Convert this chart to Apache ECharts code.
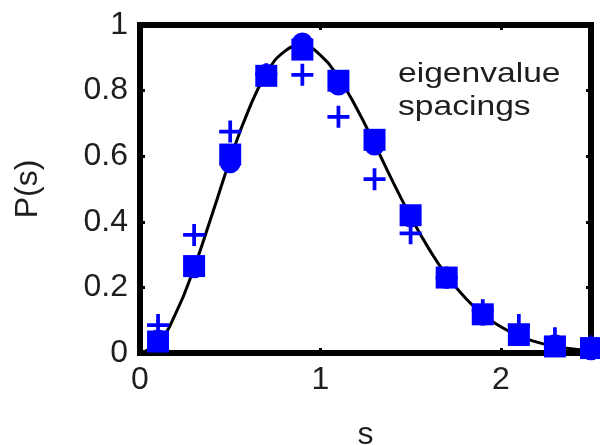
<!DOCTYPE html>
<html>
<head>
<meta charset="utf-8">
<script src="https://cdn.jsdelivr.net/npm/echarts@6/dist/echarts.min.js"></script>
<style>
  html, body { margin: 0; padding: 0; background: #fff; }
  #chart { width: 600px; height: 445px; }
</style>
</head>
<body>
<div id="chart"></div>
<script>
// Histogram bin centres (spacing s) and the three measured samples
const binS = [0.1, 0.3, 0.5, 0.7, 0.9, 1.1, 1.3, 1.5, 1.7, 1.9, 2.1, 2.3, 2.5];
const squareP = [0.035, 0.265, 0.605, 0.845, 0.925, 0.83, 0.65, 0.42, 0.23, 0.118, 0.055, 0.02, 0.015];
const circleP = [0.04, 0.26, 0.58, 0.85, 0.945, 0.817, 0.634, 0.415, 0.228, 0.115, 0.055, 0.025, 0.01];
const plusP = [0.085, 0.36, 0.675, 0.85, 0.848, 0.72, 0.53, 0.365, 0.23, 0.13, 0.085, 0.045, 0.02];

// Reference curve P(s)
const curveS = [0, 0.1, 0.2, 0.3, 0.4, 0.5, 0.6, 0.7, 0.8, 0.9, 1.0, 1.1, 1.2, 1.3,
                1.4, 1.5, 1.6, 1.7, 1.8, 1.9, 2.0, 2.1, 2.2, 2.3, 2.4, 2.5];
const curveP = [0, 0.032, 0.123, 0.26, 0.423, 0.59, 0.738, 0.851, 0.919, 0.937, 0.908, 0.84,
                0.747, 0.638, 0.524, 0.416, 0.319, 0.236, 0.17, 0.118, 0.08, 0.052, 0.033,
                0.02, 0.012, 0.007];

const xTicks = [0, 1, 2];
const yTicks = [0, 0.2, 0.4, 0.6, 0.8, 1];

const BLUE = '#0000ff';
const INK = '#1e1e1e';
const FONT = '"Liberation Sans", Arial, sans-serif';

const zip = (a, b) => a.map((v, i) => [v, b[i]]);

// filled plus sign as a closed outline
const PLUS = 'path://M8.3,0 H11.7 V8.3 H20 V11.7 H11.7 V20 H8.3 V11.7 H0 V8.3 H8.3 Z';

const frameLine = { show: true, onZero: false, lineStyle: { color: '#000', width: 6, cap: 'square' } };
const innerTick = { show: true, inside: true, length: 5, lineStyle: { color: '#000', width: 3 } };

const chart = echarts.init(document.getElementById('chart'), null, { renderer: 'canvas' });
chart.setOption({
  animation: false,
  backgroundColor: '#fff',
  grid: { left: 140, right: 9, top: 25, bottom: 92, containLabel: false, outerBoundsMode: 'none' },
  xAxis: [
    {
      type: 'value', min: 0, max: 2.5, interval: 1, position: 'bottom',
      name: 's', nameLocation: 'middle', nameGap: 66,
      nameTextStyle: { fontFamily: FONT, fontSize: 32, color: INK },
      axisLine: frameLine, axisTick: innerTick, splitLine: { show: false },
      axisLabel: {
        margin: 11, fontFamily: FONT, fontSize: 32, color: INK,
        formatter: v => (xTicks.indexOf(v) >= 0 ? String(v) : '')
      }
    },
    {
      type: 'value', min: 0, max: 2.5, interval: 1, position: 'top',
      axisLine: frameLine, axisTick: innerTick, splitLine: { show: false },
      axisLabel: { show: false }
    }
  ],
  yAxis: [
    {
      type: 'value', min: 0, max: 1, interval: 0.2, position: 'left',
      name: 'P(s)', nameLocation: 'middle', nameGap: 96, nameRotate: 90,
      nameTextStyle: { fontFamily: FONT, fontSize: 32, color: INK },
      axisLine: frameLine, axisTick: innerTick, splitLine: { show: false },
      axisLabel: {
        margin: 12, fontFamily: FONT, fontSize: 32, color: INK,
        formatter: v => (yTicks.indexOf(+v.toFixed(2)) >= 0 ? String(+v.toFixed(2)) : '')
      }
    },
    {
      type: 'value', min: 0, max: 1, interval: 0.2, position: 'right',
      axisLine: frameLine, axisTick: innerTick, splitLine: { show: false },
      axisLabel: { show: false }
    }
  ],
  graphic: [
    {
      type: 'text', x: 398, y: 58, scaleX: 1.2, z: 10,
      style: {
        text: 'eigenvalue\nspacings', fontFamily: FONT, fontSize: 28,
        lineHeight: 33, fill: INK
      }
    }
  ],
  series: [
    {
      type: 'line', data: zip(curveS, curveP), smooth: true, showSymbol: false,
      lineStyle: { color: '#000', width: 3 }, z: 2, silent: true
    },
    {
      type: 'scatter', data: zip(binS, squareP), symbol: 'rect', symbolSize: 22,
      itemStyle: { color: BLUE, opacity: 1 }, z: 3, clip: false
    },
    {
      type: 'scatter', data: zip(binS, circleP), symbol: 'circle', symbolSize: 13,
      itemStyle: { color: 'rgba(0,0,0,0)', borderColor: BLUE, borderWidth: 8, opacity: 1 },
      z: 4, clip: false
    },
    {
      type: 'scatter', data: zip(binS, plusP), symbol: PLUS, symbolSize: 22,
      itemStyle: { color: BLUE, opacity: 1 }, z: 5, clip: false
    }
  ]
});
</script>
</body>
</html>
